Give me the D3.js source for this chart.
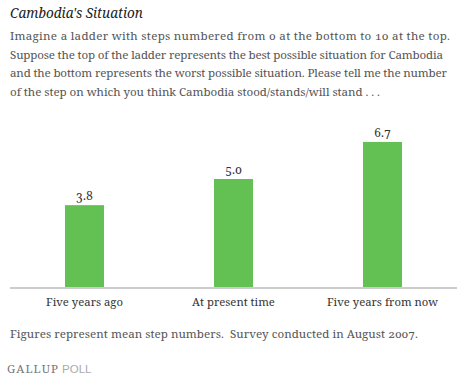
<!DOCTYPE html>
<html><head><meta charset="utf-8">
<script src="https://cdn.jsdelivr.net/npm/d3@7"></script>
<style>body{margin:0;background:#fff}svg{display:block}text{font-variant-numeric:oldstyle-nums}</style>
</head><body>
<svg id="c" width="464" height="379"></svg>
<script>
const categories = ["Five years ago", "At present time", "Five years from now"];
const values = [3.8, 5.0, 6.7];
const valueLabels = ["3.8", "5.0", "6.7"];
const titleText = "Cambodia's Situation";
const questionLines = [
  "Imagine a ladder with steps numbered from 0 at the bottom to 10 at the top.",
  "Suppose the top of the ladder represents the best possible situation for Cambodia",
  "and the bottom represents the worst possible situation. Please tell me the number",
  "of the step on which you think Cambodia stood/stands/will stand . . ."
];
const questionWidths = [440, 433, 437, 370];
const footnote = "Figures represent mean step numbers.  Survey conducted in August 2007.";

const svg = d3.select("#c");
const serif = "'Noto Serif', 'Liberation Serif', serif";

svg.append("text").attr("x", 10).attr("y", 18)
  .attr("font-family", serif).attr("font-style", "italic").attr("font-size", 13.5)
  .attr("fill", "#222").text(titleText);

svg.selectAll("text.q").data(questionLines).join("text").attr("class", "q")
  .attr("x", 10).attr("y", (d, i) => 40 + i * 18.7)
  .attr("font-family", serif).attr("font-size", 11.6).attr("fill", "#555")
  .attr("textLength", (d, i) => questionWidths[i])
  .text(d => d);

const x = d3.scaleBand().domain(categories).range([10, 457]).paddingInner(0.738).paddingOuter(0.369);
const y = d3.scaleLinear().domain([0, 10]).range([288, 70]);

const g = svg.append("g");
g.selectAll("rect").data(values).join("rect")
  .attr("x", (d, i) => x(categories[i]))
  .attr("y", d => y(d))
  .attr("width", x.bandwidth())
  .attr("height", d => y(0) - y(d))
  .attr("fill", "#62c152");

g.selectAll("text.v").data(values).join("text").attr("class", "v")
  .attr("x", (d, i) => x(categories[i]) + x.bandwidth() / 2)
  .attr("y", d => y(d) - 5)
  .attr("text-anchor", "middle")
  .attr("font-family", serif).attr("font-size", 12).attr("fill", "#333")
  .text((d, i) => valueLabels[i]);

const axis = d3.axisBottom(x).tickSize(0).tickPadding(10);
const ag = svg.append("g").attr("transform", `translate(0,${y(0)})`).call(axis);
ag.select(".domain").attr("stroke", "#cccccc").attr("stroke-width", 2).attr("d", "M10,0H457");
ag.selectAll(".tick text").attr("font-family", serif).attr("font-size", 11.3).attr("fill", "#333");

svg.append("text").attr("x", 10).attr("y", 338)
  .attr("font-family", serif).attr("font-size", 11.6).attr("fill", "#555")
  .attr("textLength", 408).style("white-space", "pre").text(footnote);

const gp = svg.append("text").attr("x", 7).attr("y", 373);
gp.append("tspan").attr("font-family", serif).attr("font-size", 11.5).attr("fill", "#777").attr("textLength", 51).text("GALLUP");
gp.append("tspan").attr("dx", 3).attr("font-family", "'Liberation Sans', Arial, sans-serif").attr("font-size", 11.5).attr("fill", "#aaa").text("POLL");
</script>
</body></html>
